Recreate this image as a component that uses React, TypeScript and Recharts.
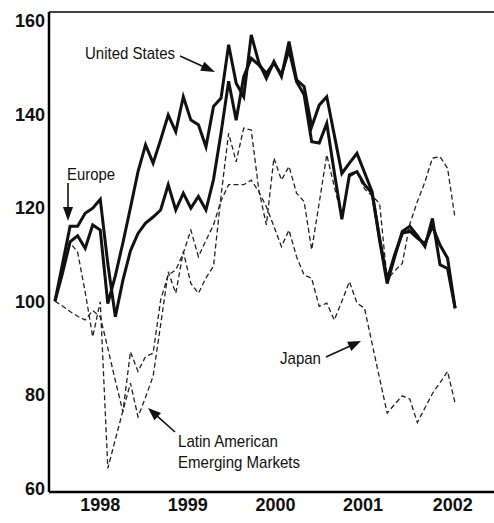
import React from 'react';
import { LineChart, Line, XAxis, YAxis, ReferenceLine } from 'recharts';

// Monthly index values, Jan 1998 = 100 (index 0 = Jan 1998)
const usValues = [100, 106, 112.7, 114, 111.3, 116.3, 115.2, 99.5, 105.5, 112.5,
  120, 127.7, 133.4, 129.5, 134.5, 139.8, 136.2, 143.7, 138.7, 137.7,
  133, 141.6, 143.4, 154.8, 146.6, 143.7, 156.9, 151, 147.6, 151.2,
  148, 155.5, 147.3, 145.9, 137.3, 141.9, 143.7, 135.5, 127.3, 129.5,
  131.6, 127.5, 123.4, 113, 103.8, 109.5, 114.9, 116, 114, 111.7,
  117.7, 107.8, 107, 98.5];

const europeValues = [100, 108, 116, 116, 118.8, 119.9, 121.8, 108, 96.7, 104.5,
  110.8, 114.5, 116.7, 118, 119.5, 124.9, 119.5, 123.1, 119.9, 122.4,
  119.5, 126, 136, 147, 138.7, 148, 151.9, 150.5, 148.7, 150.9,
  148.4, 153.7, 146.9, 144.1, 134.1, 133.8, 138, 127.5, 117.5, 127,
  127.7, 124.9, 123.1, 113.5, 104.6, 110, 114.5, 115, 113.5, 112.3,
  116, 112, 109.2, 98.5];

const japanValues = [100, 99, 97.8, 96.8, 96, 98, 96.7, 90, 83, 76.4,
  89.2, 85, 88.2, 88.9, 100.3, 105.6, 106.7, 110.3, 115.2, 109.5,
  113, 116.3, 121.5, 124.9, 124.9, 124.9, 125.9, 123.4, 120.2, 116,
  111.7, 115.2, 109.5, 105.6, 104.9, 98.9, 99.6, 96, 100, 104.2,
  99.6, 98.5, 91, 83.5, 76.1, 78, 79.8, 79.1, 74.1, 77.2,
  80.3, 82.6, 85, 78.2];

const latinValues = [100, 106, 112.5, 110.5, 102, 92.4, 99.9, 64.3, 70.5, 76.6,
  82.5, 75.3, 79.5, 84, 95, 106.3, 101.7, 110.6, 103.8, 101.7,
  105, 107.5, 122.6, 135.9, 129.8, 137, 136.6, 123.8, 116.3, 130.6,
  125.9, 128.8, 123.1, 121.3, 111, 121, 131.3, 124.5, 118, 126.6,
  127.5, 124, 122.5, 120.9, 104.6, 106.5, 108.1, 116.5, 121.3, 125.5,
  130.6, 130.9, 128.4, 117.7];

const yTicks = [60, 80, 100, 120, 140, 160];
const yearLabels = ['1998', '1999', '2000', '2001', '2002'];
const yearTickPositions = [6, 17.6, 29.2, 40.8, 52.7];

const data = usValues.map((v, i) => ({
  t: i,
  us: v,
  europe: europeValues[i],
  japan: japanValues[i],
  latin: latinValues[i],
}));

const FONT = '"Liberation Sans", Arial, Helvetica, sans-serif';

const YTick = (props: any) => {
  const { y, payload } = props;
  return (
    <text x={45} y={y} dy="0.36em" textAnchor="end" fontFamily={FONT} fontSize={18} fontWeight="bold" fill="#111">
      {payload.value}
    </text>
  );
};

const XTick = (props: any) => {
  const { x, payload } = props;
  const idx = yearTickPositions.indexOf(payload.value);
  return (
    <text x={x} y={511} textAnchor="middle" fontFamily={FONT} fontSize={18} fontWeight="bold" fill="#111">
      {idx >= 0 ? yearLabels[idx] : ''}
    </text>
  );
};

function arrowHead(x1: number, y1: number, x2: number, y2: number, len: number, half: number) {
  const dx = x2 - x1, dy = y2 - y1;
  const L = Math.hypot(dx, dy);
  const ux = dx / L, uy = dy / L;
  const bx = x2 - ux * len, by = y2 - uy * len;
  return `${x2},${y2} ${bx - uy * half},${by + ux * half} ${bx + uy * half},${by - ux * half}`;
}

const Arrow = ({ x1, y1, x2, y2, len = 13, half = 4.5 }: any) => {
  const dx = x2 - x1, dy = y2 - y1;
  const L = Math.hypot(dx, dy);
  const ex = x2 - (dx / L) * (len - 1), ey = y2 - (dy / L) * (len - 1);
  return (
    <g>
      <line x1={x1} y1={y1} x2={ex} y2={ey} stroke="#111" strokeWidth={1.6} />
      <polygon points={arrowHead(x1, y1, x2, y2, len, half)} fill="#111" />
    </g>
  );
};

const Annotations = () => (
  <svg width={494} height={523} style={{ position: 'absolute', left: 0, top: 0, pointerEvents: 'none' }}>
    <g fontFamily={FONT} fontSize={17} fill="#111">
      <text x={85} y={59} textLength={90} lengthAdjust="spacingAndGlyphs">United States</text>
      <text x={67} y={179.5} textLength={48} lengthAdjust="spacingAndGlyphs">Europe</text>
      <text x={280} y={364} textLength={41} lengthAdjust="spacingAndGlyphs">Japan</text>
      <text x={178} y={446.5} textLength={100} lengthAdjust="spacingAndGlyphs">Latin American</text>
      <text x={178} y={468} textLength={122} lengthAdjust="spacingAndGlyphs">Emerging Markets</text>
    </g>
    <Arrow x1={180} y1={56} x2={215} y2={72} len={14} half={5} />
    <Arrow x1={68} y1={183} x2={68} y2={221} len={14} half={5} />
    <Arrow x1={326} y1={357} x2={361} y2={341} len={13} half={5} />
    <Arrow x1={175} y1={432} x2={148} y2={408} len={13} half={5} />
  </svg>
);

export default function App() {
  return (
    <div style={{ position: 'absolute', left: 0, top: 0, width: 494, height: 523, background: '#fff' }}>
      <LineChart width={494} height={523} data={data} margin={{ top: 12, right: 0, bottom: 0, left: 0 }}>
        <XAxis
          dataKey="t"
          type="number"
          domain={[-0.79, 58.15]}
          ticks={yearTickPositions}
          tick={<XTick />}
          tickLine={false}
          axisLine={{ stroke: '#000', strokeWidth: 2.5 }}
          height={31}
          interval={0}
        />
        <YAxis
          type="number"
          domain={[59.25, 161.8]}
          ticks={yTicks}
          tick={<YTick />}
          tickLine={false}
          axisLine={{ stroke: '#000', strokeWidth: 2.5 }}
          width={49}
          interval={0}
        />
        <ReferenceLine y={161.8} stroke="#000" strokeWidth={1.6} />
        <Line type="linear" dataKey="japan" stroke="#222" strokeWidth={1.3} strokeDasharray="5 3" dot={false} activeDot={false} isAnimationActive={false} />
        <Line type="linear" dataKey="latin" stroke="#222" strokeWidth={1.3} strokeDasharray="5 3" dot={false} activeDot={false} isAnimationActive={false} />
        <Line type="linear" dataKey="europe" stroke="#111" strokeWidth={3} dot={false} activeDot={false} isAnimationActive={false} />
        <Line type="linear" dataKey="us" stroke="#111" strokeWidth={3} dot={false} activeDot={false} isAnimationActive={false} />
      </LineChart>
      <Annotations />
    </div>
  );
}
